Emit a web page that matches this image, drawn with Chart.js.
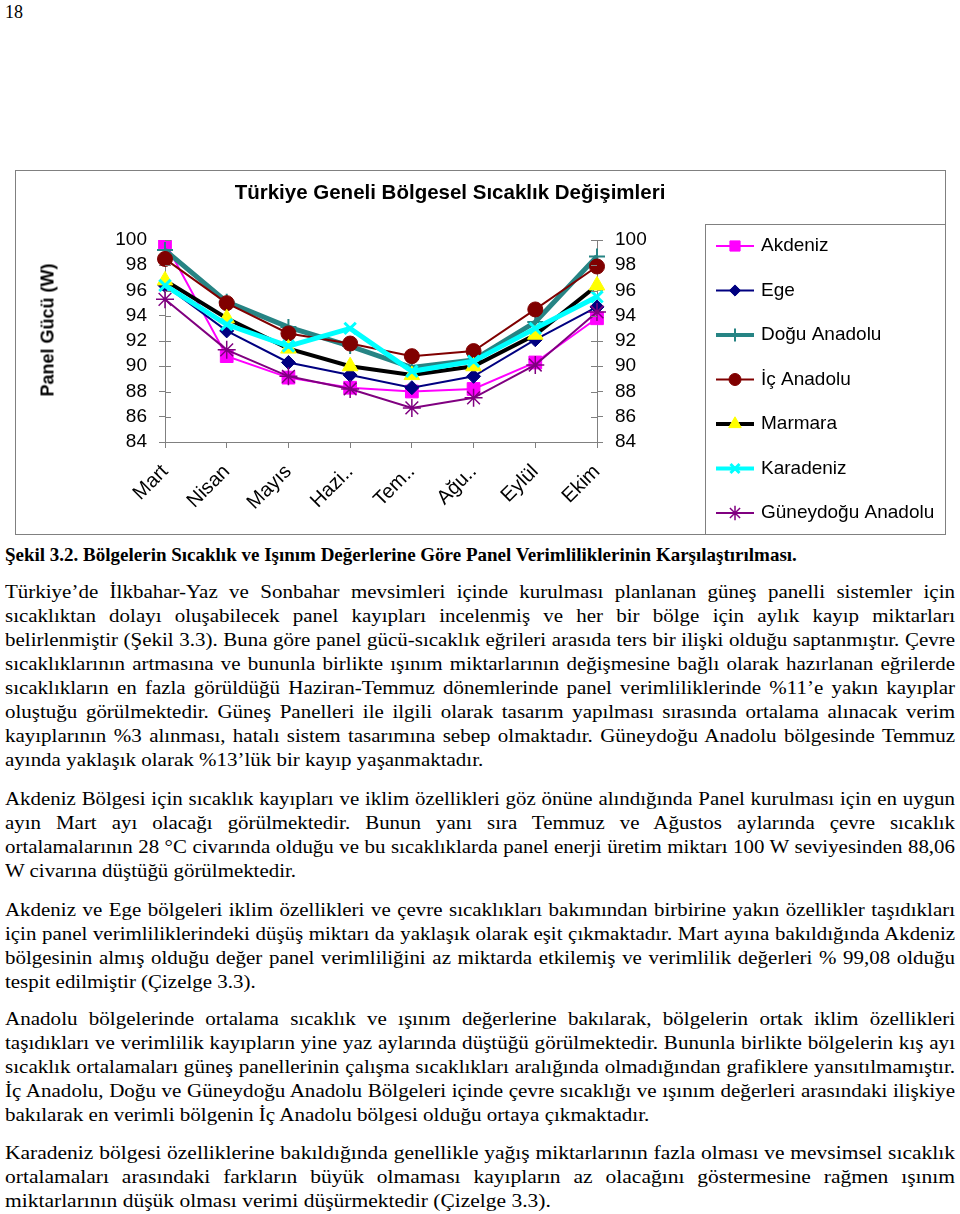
<!DOCTYPE html>
<html lang="tr">
<head>
<meta charset="utf-8">
<title>Türkiye Geneli Bölgesel Sıcaklık Değişimleri</title>
<script src="https://cdn.jsdelivr.net/npm/chart.js@4.4.1/dist/chart.umd.min.js"></script>
<style>
  body { margin: 0; background: #fff; color: #000; width: 960px; height: 1214px; position: relative; overflow: hidden;
         font-family: "Liberation Serif", "Times New Roman", serif; }
  #pageNo { position: absolute; left: 5px; top: 0; font-size: 18px; line-height: 24px; }
  #chartBox { position: absolute; left: 15px; top: 170px; width: 931px; height: 365px; box-sizing: border-box; border: 1px solid #808080; }
  #chartBox canvas { position: absolute; left: 0; top: 0; }
  #chartTitle { position: absolute; left: 100px; width: 700px; top: 180px; text-align: center; line-height: 24px;
                font: bold 20.5px "Liberation Sans", Arial, sans-serif; }
  #yTitle { position: absolute; left: 48px; top: 330px; transform: translate(-50%, -50%) rotate(-90deg); white-space: nowrap;
            font: bold 18px "Liberation Sans", Arial, sans-serif; }
  .caption { position: absolute; left: 5px; top: 543px; font-weight: bold; font-size: 19px; line-height: 24px; white-space: nowrap; }
  .para { position: absolute; left: 5px; width: 950px; font-size: 18.5px; transform-origin: 0 0; }
  .ln { height: 24px; line-height: 24px; white-space: nowrap; text-align: justify; text-align-last: justify; }
  .ln.last { text-align-last: left; }
</style>
</head>
<body>
<div id="pageNo">18</div>

<div id="chartBox"><canvas id="regionChart" width="929" height="363"></canvas></div>
<div id="chartTitle">Türkiye Geneli Bölgesel Sıcaklık Değişimleri</div>
<div id="yTitle">Panel Gücü (W)</div>

<div class="caption">Şekil 3.2. Bölgelerin Sıcaklık ve Işınım Değerlerine Göre Panel Verimliliklerinin Karşılaştırılması.</div>

<div class="para" style="top:580px">
  <div class="ln">Türkiye’de İlkbahar-Yaz ve Sonbahar mevsimleri içinde kurulması planlanan güneş panelli sistemler için</div>
  <div class="ln">sıcaklıktan dolayı oluşabilecek panel kayıpları incelenmiş ve her bir bölge için aylık kayıp miktarları</div>
  <div class="ln">belirlenmiştir (Şekil 3.3). Buna göre panel gücü-sıcaklık eğrileri arasıda ters bir ilişki olduğu saptanmıştır. Çevre</div>
  <div class="ln">sıcaklıklarının artmasına ve bununla birlikte ışınım miktarlarının değişmesine bağlı olarak hazırlanan eğrilerde</div>
  <div class="ln">sıcaklıkların en fazla görüldüğü Haziran-Temmuz dönemlerinde panel verimliliklerinde %11’e yakın kayıplar</div>
  <div class="ln">oluştuğu görülmektedir. Güneş Panelleri ile ilgili olarak tasarım yapılması sırasında ortalama alınacak verim</div>
  <div class="ln">kayıplarının %3 alınması, hatalı sistem tasarımına sebep olmaktadır. Güneydoğu Anadolu bölgesinde Temmuz</div>
  <div class="ln last">ayında yaklaşık olarak %13’lük bir kayıp yaşanmaktadır.</div>
</div>

<div class="para" style="top:787px">
  <div class="ln">Akdeniz Bölgesi için sıcaklık kayıpları ve iklim özellikleri göz önüne alındığında Panel kurulması için en uygun</div>
  <div class="ln">ayın Mart ayı olacağı görülmektedir. Bunun yanı sıra Temmuz ve Ağustos aylarında çevre sıcaklık</div>
  <div class="ln">ortalamalarının 28 °C civarında olduğu ve bu sıcaklıklarda panel enerji üretim miktarı 100 W seviyesinden 88,06</div>
  <div class="ln last">W civarına düştüğü görülmektedir.</div>
</div>

<div class="para" style="top:898px">
  <div class="ln">Akdeniz ve Ege bölgeleri iklim özellikleri ve çevre sıcaklıkları bakımından birbirine yakın özellikler taşıdıkları</div>
  <div class="ln">için panel verimliliklerindeki düşüş miktarı da yaklaşık olarak eşit çıkmaktadır. Mart ayına bakıldığında Akdeniz</div>
  <div class="ln">bölgesinin almış olduğu değer panel verimliliğini az miktarda etkilemiş ve verimlilik değerleri % 99,08 olduğu</div>
  <div class="ln last">tespit edilmiştir (Çizelge 3.3).</div>
</div>

<div class="para" style="top:1007px">
  <div class="ln">Anadolu bölgelerinde ortalama sıcaklık ve ışınım değerlerine bakılarak, bölgelerin ortak iklim özellikleri</div>
  <div class="ln">taşıdıkları ve verimlilik kayıpların yine yaz aylarında düştüğü görülmektedir. Bununla birlikte bölgelerin kış ayı</div>
  <div class="ln">sıcaklık ortalamaları güneş panellerinin çalışma sıcaklıkları aralığında olmadığından grafiklere yansıtılmamıştır.</div>
  <div class="ln">İç Anadolu, Doğu ve Güneydoğu Anadolu Bölgeleri içinde çevre sıcaklığı ve ışınım değerleri arasındaki ilişkiye</div>
  <div class="ln last">bakılarak en verimli bölgenin İç Anadolu bölgesi olduğu ortaya çıkmaktadır.</div>
</div>

<div class="para" style="top:1141px">
  <div class="ln">Karadeniz bölgesi özelliklerine bakıldığında genellikle yağış miktarlarının fazla olması ve mevsimsel sıcaklık</div>
  <div class="ln">ortalamaları arasındaki farkların büyük olmaması kayıpların az olacağını göstermesine rağmen ışınım</div>
  <div class="ln last">miktarlarının düşük olması verimi düşürmektedir (Çizelge 3.3).</div>
</div>

<script>
// aylar ve bölgelere göre panel gücü (W)
const months = ['Mart', 'Nisan', 'Mayıs', 'Hazi..', 'Tem..', 'Ağu..', 'Eylül', 'Ekim'];
const akdeniz    = [99.8, 90.8, 89.1, 88.3, 88.0, 88.2, 90.3, 93.8];
const ege        = [96.4, 92.8, 90.3, 89.3, 88.3, 89.2, 92.1, 94.7];
const doguAnd    = [99.2, 95.1, 93.1, 91.6, 89.9, 90.5, 93.5, 98.7];
const icAnd      = [98.5, 95.0, 92.6, 91.8, 90.8, 91.2, 94.5, 97.9];
const marmara    = [96.8, 93.8, 91.4, 90.0, 89.3, 90.0, 92.5, 96.4];
const karadeniz  = [96.4, 93.3, 91.6, 93.0, 89.6, 90.4, 93.0, 95.5];
const guneydogu  = [95.3, 91.3, 89.2, 88.2, 86.7, 87.5, 90.1, 94.3];
const yMin = 84, yMax = 100, yStep = 2;

const FONT = '"Liberation Sans", Arial, sans-serif';

function series(label, data, color, width, style, radius, fill, pbw) {
    return {
        label: label, data: data,
        borderColor: color, borderWidth: width, tension: 0, fill: false,
        pointStyle: style, pointRadius: radius,
        pointBackgroundColor: fill, pointBorderColor: style === 'triangle' ? fill : color,
        pointBorderWidth: pbw
    };
}

const datasets = [
    series('Akdeniz', akdeniz, '#ff00ff', 2, 'rect', 9, '#ff00ff', 1),
    series('Ege', ege, '#000080', 2, 'rectRot', 7, '#000080', 1),
    series('Doğu Anadolu', doguAnd, '#268484', 5, 'cross', 8, '#268484', 2),
    series('İç Anadolu', icAnd, '#800000', 2, 'circle', 7.5, '#800000', 1),
    series('Marmara', marmara, '#000000', 4, 'triangle', 9, '#ffff00', 1),
    series('Karadeniz', karadeniz, '#00ffff', 5, 'crossRot', 8, '#00ffff', 3),
    series('Güneydoğu Anadolu', guneydogu, '#800080', 2, 'star', 9, '#800080', 1.5)
];
// Excel gibi: son seri en üstte
datasets.forEach((d, i) => { d.order = datasets.length - i; });

// y eksenlerindeki çentikler eksenin iki yanına taşsın
const innerTicks = {
    id: 'innerTicks',
    afterDraw(chart) {
        const ctx = chart.ctx;
        ctx.save();
        ctx.strokeStyle = '#808080';
        ctx.lineWidth = 1;
        ['y', 'y2'].forEach(id => {
            const s = chart.scales[id];
            const x = id === 'y' ? chart.chartArea.left : chart.chartArea.right;
            const dir = id === 'y' ? 1 : -1;
            s.ticks.forEach(t => {
                const py = Math.round(s.getPixelForValue(t.value)) + 0.5;
                ctx.beginPath();
                ctx.moveTo(x, py);
                ctx.lineTo(x + dir * 6, py);
                ctx.stroke();
            });
        });
        ctx.restore();
    }
};

const boxLegend = {
    id: 'boxLegend',
    afterDraw(chart) {
        const ctx = chart.ctx;
        ctx.save();
        ctx.strokeStyle = '#808080';
        ctx.lineWidth = 1;
        ctx.strokeRect(689.5, 53.5, 400, 400);
        chart.data.datasets.forEach((ds, i) => {
            const y = 75 + i * 44.5;
            ctx.strokeStyle = ds.borderColor;
            ctx.lineWidth = Math.min(ds.borderWidth, 4);
            ctx.beginPath();
            ctx.moveTo(700, y);
            ctx.lineTo(738, y);
            ctx.stroke();
            ctx.fillStyle = ds.pointBackgroundColor;
            ctx.strokeStyle = ds.pointBorderColor;
            ctx.lineWidth = ds.pointBorderWidth;
            Chart.helpers.drawPoint(ctx, {
                pointStyle: ds.pointStyle, rotation: 0,
                radius: ds.pointRadius * 0.8, borderWidth: ds.pointBorderWidth
            }, 719, y);
            ctx.fillStyle = '#000';
            ctx.font = '19px ' + FONT;
            ctx.textBaseline = 'middle';
            ctx.textAlign = 'left';
            ctx.fillText(ds.label, 745, y);
        });
        ctx.restore();
    }
};

const tickFont = { size: 19, family: FONT };
const yAxis = (pos, width) => ({
    position: pos, min: yMin, max: yMax,
    ticks: { stepSize: yStep, autoSkip: false, color: '#000', font: tickFont, padding: 12 },
    grid: { drawOnChartArea: false, tickLength: 6, color: '#808080' },
    border: { color: '#808080' },
    afterFit: s => { s.width = width; }
});

const chart = new Chart(document.getElementById('regionChart'), {
    type: 'line',
    data: { labels: months, datasets: datasets },
    options: {
        responsive: false,
        animation: false,
        devicePixelRatio: 1,
        layout: { padding: { left: 0, right: 268, top: 69, bottom: 12 } },
        plugins: { legend: { display: false }, tooltip: { enabled: false }, title: { display: false } },
        scales: {
            x: {
                offset: false,
                grid: { drawOnChartArea: false, tickLength: 6, color: '#808080' },
                border: { color: '#808080' },
                ticks: { color: '#000', font: { size: 20, family: FONT }, minRotation: 45, maxRotation: 45, autoSkip: false, padding: 12 },
                afterFit: s => { s.height = 80; }
            },
            y: yAxis('left', 149),
            y2: yAxis('right', 80)
        }
    },
    plugins: [innerTicks, boxLegend]
});

// satırları iki yana yasla; paragrafı en uzun satıra göre yatayda ölçekle
const meas = document.createElement('span');
meas.style.cssText = 'position:absolute;visibility:hidden;white-space:nowrap;left:0;top:0;';
document.body.appendChild(meas);
document.querySelectorAll('.para').forEach(p => {
    let widest = 0;
    p.querySelectorAll('.ln:not(.last)').forEach(el => {
        meas.style.font = getComputedStyle(el).font;
        meas.textContent = el.textContent;
        widest = Math.max(widest, meas.getBoundingClientRect().width);
    });
    const f = 950 / (widest + 4);
    p.style.width = (950 / f) + 'px';
    p.style.transform = 'scaleX(' + f + ')';
});
meas.remove();
</script>
</body>
</html>
